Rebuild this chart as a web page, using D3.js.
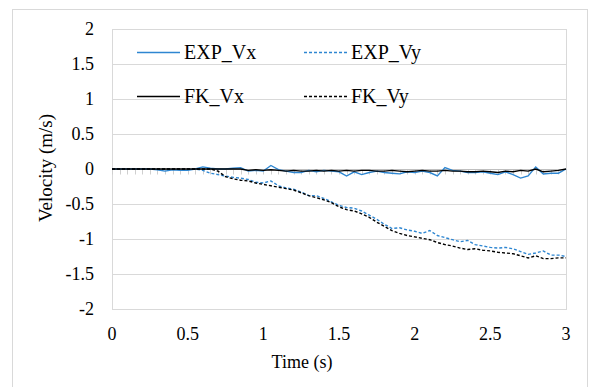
<!DOCTYPE html>
<html>
<head>
<meta charset="utf-8">
<script src="https://cdn.jsdelivr.net/npm/d3@7"></script>
<style>
  body { margin: 0; background: #fff; }
  text { font-family: "Liberation Serif", "Times New Roman", serif; fill: #000; }
</style>
</head>
<body>
<svg id="chart" width="589" height="387"></svg>
<script>
// time step 0.05 s, 0 .. 3 s
var time = d3.range(0, 61).map(function(i) { return +(i * 0.05).toFixed(2); });

var expVx = [0, 0, 0, 0, 0, 0, -0.01, -0.03, -0.01, -0.02, -0.02, 0.0, 0.03, 0.01, 0.0, 0.0,
  0.01, 0.02, -0.03, -0.02, -0.03, 0.05, -0.01, -0.03, -0.05, -0.05, -0.02, -0.04, -0.02, -0.03,
  -0.04, -0.1, -0.04, -0.08, -0.05, -0.03, -0.05, -0.06, -0.07, -0.04, -0.05, -0.03, -0.05, -0.1,
  0.02, -0.02, -0.03, -0.05, -0.05, -0.04, -0.06, -0.08, -0.04, -0.08, -0.13, -0.1, 0.03, -0.07,
  -0.06, -0.06, 0.0];

var expVy = [0, 0, 0, 0, 0, 0, 0, 0, 0, 0, 0, 0, -0.02, -0.06, -0.08, -0.1, -0.12, -0.13, -0.15,
  -0.19, -0.2, -0.17, -0.24, -0.27, -0.29, -0.33, -0.38, -0.38, -0.42, -0.47, -0.52, -0.55, -0.56,
  -0.6, -0.66, -0.72, -0.79, -0.85, -0.84, -0.87, -0.89, -0.92, -0.88, -0.95, -0.98, -1.01, -1.04,
  -1.02, -1.08, -1.1, -1.12, -1.13, -1.12, -1.14, -1.18, -1.22, -1.2, -1.17, -1.23, -1.23, -1.25];

var fkVx = [0, 0, 0, 0, 0, 0, 0, 0, 0, 0, 0, 0, 0, 0, 0, 0, 0, 0, -0.02, -0.01, -0.02, -0.01,
  -0.02, -0.03, -0.02, -0.03, -0.03, -0.02, -0.03, -0.02, -0.03, -0.02, -0.03, -0.02, -0.02, -0.03,
  -0.03, -0.02, -0.03, -0.04, -0.03, -0.02, -0.03, -0.03, -0.02, -0.03, -0.03, -0.04, -0.04, -0.03,
  -0.04, -0.05, -0.03, -0.04, -0.02, -0.03, 0.0, -0.04, -0.03, -0.02, 0.0];

var fkVy = [0, 0, 0, 0, 0, 0, 0, 0, 0, 0, 0, 0, 0, 0, -0.03, -0.11, -0.14, -0.16, -0.17, -0.2,
  -0.22, -0.24, -0.26, -0.28, -0.3, -0.34, -0.38, -0.41, -0.44, -0.48, -0.54, -0.58, -0.6, -0.64,
  -0.69, -0.76, -0.82, -0.88, -0.92, -0.95, -0.97, -0.99, -1.01, -1.05, -1.08, -1.1, -1.13, -1.15,
  -1.14, -1.16, -1.17, -1.19, -1.2, -1.21, -1.24, -1.27, -1.24, -1.28, -1.28, -1.27, -1.27];

var xTicks = [0, 0.5, 1, 1.5, 2, 2.5, 3];
var yTicks = [-2, -1.5, -1, -0.5, 0, 0.5, 1, 1.5, 2];

var series = [
  {name: "EXP_Vx", values: expVx, color: "#2E86D1", dash: null},
  {name: "EXP_Vy", values: expVy, color: "#2E86D1", dash: "3,2"},
  {name: "FK_Vx", values: fkVx, color: "#000000", dash: null},
  {name: "FK_Vy", values: fkVy, color: "#000000", dash: "3,2"}
];

var svg = d3.select("#chart");
var plotL = 112, plotR = 566, plotT = 29, plotB = 309;

// chart area border
svg.append("rect")
  .attr("x", 12.5).attr("y", 9.5)
  .attr("width", 575).attr("height", 400)
  .attr("fill", "none").attr("stroke", "#d9d9d9");

var x = d3.scaleLinear().domain([0, 3]).range([plotL, plotR]);
var y = d3.scaleLinear().domain([-2, 2]).range([plotB, plotT]);

// gridlines
svg.append("g").selectAll("line")
  .data(yTicks)
  .enter().append("line")
    .attr("x1", plotL).attr("x2", plotR)
    .attr("y1", function(d) { return Math.round(y(d)) + 0.5; })
    .attr("y2", function(d) { return Math.round(y(d)) + 0.5; })
    .attr("stroke", "#d9d9d9");

// plot area edges
svg.append("line")
  .attr("x1", plotL + 0.5).attr("x2", plotL + 0.5).attr("y1", plotT).attr("y2", plotB)
  .attr("stroke", "#d9d9d9");
svg.append("line")
  .attr("x1", plotR + 0.5).attr("x2", plotR + 0.5).attr("y1", plotT).attr("y2", plotB + 1)
  .attr("stroke", "#d9d9d9");

// small ticks below the zero line
var y0 = Math.round(y(0)) + 0.5;
svg.append("g").selectAll("line")
  .data(d3.range(0, 61))
  .enter().append("line")
    .attr("x1", function(i) { return Math.round(x(i * 0.05)) + 0.5; })
    .attr("x2", function(i) { return Math.round(x(i * 0.05)) + 0.5; })
    .attr("y1", y0).attr("y2", y0 + 5)
    .attr("stroke", "#cfcfcf");
svg.append("line")
  .attr("x1", plotL).attr("x2", plotR).attr("y1", y0).attr("y2", y0)
  .attr("stroke", "#bfbfbf");

// tick labels
svg.append("g").selectAll("text")
  .data(yTicks)
  .enter().append("text")
    .attr("x", 94)
    .attr("y", function(d) { return y(d) + 6; })
    .attr("text-anchor", "end")
    .style("font-size", "18px")
    .text(function(d) { return d; });

svg.append("g").selectAll("text")
  .data(xTicks)
  .enter().append("text")
    .attr("x", function(d) { return x(d); })
    .attr("y", 340)
    .attr("text-anchor", "middle")
    .style("font-size", "18px")
    .text(function(d) { return d; });

// axis titles
svg.append("text")
  .attr("x", 302).attr("y", 368)
  .attr("text-anchor", "middle")
  .style("font-size", "18px")
  .text("Time (s)");

svg.append("text")
  .attr("transform", "translate(52,168) rotate(-90)")
  .attr("text-anchor", "middle")
  .style("font-size", "19px")
  .text("Velocity (m/s)");

// lines
var line = d3.line()
  .x(function(d, i) { return x(time[i]); })
  .y(function(d) { return y(d); });

svg.append("g").selectAll("path")
  .data(series)
  .enter().append("path")
    .attr("d", function(s) { return line(s.values); })
    .attr("fill", "none")
    .attr("stroke", function(s) { return s.color; })
    .attr("stroke-width", 1.4)
    .attr("stroke-dasharray", function(s) { return s.dash; });

// legend, two columns
var legendPos = [[137, 52], [304, 52], [137, 96], [304, 96]];
var legend = svg.append("g").selectAll("g")
  .data(series)
  .enter().append("g")
    .attr("transform", function(s, i) { return "translate(" + legendPos[i][0] + "," + legendPos[i][1] + ")"; });

legend.append("line")
  .attr("x1", 0).attr("x2", 43).attr("y1", 0.5).attr("y2", 0.5)
  .attr("stroke", function(s) { return s.color; })
  .attr("stroke-width", 1.4)
  .attr("stroke-dasharray", function(s) { return s.dash; });

legend.append("text")
  .attr("x", 47).attr("y", 7)
  .style("font-size", "20px")
  .text(function(s) { return s.name; });
</script>
</body>
</html>
